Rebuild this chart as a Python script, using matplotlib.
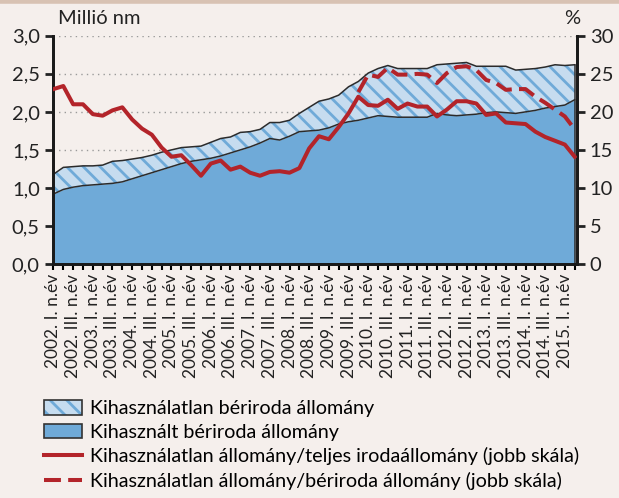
import matplotlib
matplotlib.use('Agg')
import matplotlib.pyplot as plt
from matplotlib.patches import Patch
from matplotlib.lines import Line2D
from matplotlib.legend_handler import HandlerTuple
import numpy as np

plt.rcParams['font.family'] = ['Lato', 'DejaVu Sans']
plt.rcParams['hatch.linewidth'] = 2.0

# quarterly data, 2002 Q1 - 2015 Q2
years = list(range(2002, 2016))
quarters = [f"{y}. {q}. n.év" for y in years for q in ['I', 'II', 'III', 'IV']][:54]

# used office stock (million m2)
used = [0.92, 0.98, 1.01, 1.03, 1.04, 1.05, 1.06, 1.08, 1.12, 1.16,
        1.20, 1.24, 1.28, 1.32, 1.35, 1.37, 1.39, 1.42, 1.46, 1.50,
        1.54, 1.59, 1.65, 1.63, 1.68, 1.74, 1.75, 1.76, 1.79, 1.84,
        1.87, 1.89, 1.92, 1.95, 1.94, 1.93, 1.93, 1.93, 1.93, 1.98,
        1.96, 1.95, 1.96, 1.97, 1.99, 2.00, 1.99, 1.98, 2.00, 2.02,
        2.05, 2.07, 2.09, 2.16]
# total rental office stock (million m2)
total = [1.18, 1.27, 1.28, 1.29, 1.29, 1.30, 1.35, 1.36, 1.38, 1.40,
         1.43, 1.47, 1.50, 1.53, 1.54, 1.55, 1.60, 1.65, 1.67, 1.73,
         1.74, 1.77, 1.86, 1.86, 1.89, 1.98, 2.06, 2.14, 2.17, 2.22,
         2.33, 2.40, 2.51, 2.57, 2.61, 2.57, 2.57, 2.57, 2.57, 2.62,
         2.63, 2.64, 2.65, 2.60, 2.60, 2.60, 2.60, 2.55, 2.56, 2.57,
         2.59, 2.62, 2.61, 2.62]
# vacancy / total office stock (%)
vac_total = [23.0, 23.4, 21.0, 21.0, 19.7, 19.5, 20.2, 20.6, 19.0, 17.8,
             17.0, 15.3, 14.1, 14.3, 13.0, 11.6, 13.2, 13.6, 12.4, 12.8,
             12.0, 11.6, 12.1, 12.2, 12.0, 12.6, 15.2, 16.8, 16.4, 18.0,
             19.8, 22.0, 20.9, 20.8, 21.6, 20.4, 21.1, 20.7, 20.7, 19.4,
             20.3, 21.4, 21.4, 21.1, 19.6, 19.8, 18.6, 18.5, 18.4, 17.4,
             16.7, 16.2, 15.7, 14.1]
# vacancy / rental office stock (%), from 2009 Q4
vac_rental = [None] * 31 + [22.6, 24.9, 24.6, 25.8, 24.9, 24.9, 25.0, 24.9, 23.8,
                            25.1, 25.9, 26.0, 25.5, 24.2, 23.8, 22.9, 23.0, 23.0, 22.0,
                            21.2, 20.3, 19.4, 17.7]

bg = '#F5EFEC'
red = '#B3242A'
dark_blue = '#6FAAD8'
light_blue = '#C6DCEF'
txt = '#222222'

x = np.arange(len(used))
vr = np.array([np.nan if v is None else v for v in vac_rental])

fig = plt.figure(figsize=(6.19, 4.98), dpi=100, facecolor=bg)
fig.add_artist(Line2D([0, 1], [0.997, 0.997], color='#D8C2B3', lw=4))
ax = fig.add_axes([0.0856, 0.470, 0.846, 0.458])
ax.set_facecolor(bg)

ax.fill_between(x, 0, used, color=dark_blue, lw=0, zorder=2)
ax.fill_between(x, used, total, facecolor=light_blue, edgecolor=dark_blue,
                hatch='\\\\', lw=0, zorder=2)
ax.plot(x, used, color='#2B2B2B', lw=1.1, zorder=3)
ax.plot(x, total, color='#2B2B2B', lw=1.1, zorder=3)
ax.plot([0, 0], [0, total[0]], color='#2B2B2B', lw=1.1, zorder=3)
ax.plot([x[-1], x[-1]], [0, total[-1]], color='#2B2B2B', lw=1.1, zorder=3)

ax.set_xlim(-0.05, 53.2)
ax.set_ylim(0, 3)
ax.set_yticks(np.arange(0, 3.01, 0.5))
ax.set_yticklabels([f"{v:.1f}".replace('.', ',') for v in np.arange(0, 3.01, 0.5)])
ax.yaxis.grid(True, color='#9A9A9A', ls=(0, (1, 3)), lw=1)
ax.set_axisbelow(True)

ax.set_xticks(x)
ax.set_xticklabels([q if i % 2 == 0 else '' for i, q in enumerate(quarters)],
                   rotation=90, fontsize=12.5, color=txt)
ax.tick_params(axis='x', length=4, width=1.5, direction='out', pad=3)
ax.tick_params(axis='y', length=6, width=2, labelsize=14.5, colors=txt)

ax2 = ax.twinx()
ax2.set_ylim(0, 30)
ax2.set_yticks(range(0, 31, 5))
ax2.tick_params(axis='y', length=6, width=2, labelsize=14.5, colors=txt)
ax2.plot(x, vac_total, color=red, lw=2.9, zorder=4)
ax2.plot(x, vr, color=red, lw=2.9, ls=(0, (4.2, 1.8)), zorder=4)

for a in (ax, ax2):
    a.spines['top'].set_visible(False)
    for s in ('left', 'right', 'bottom'):
        a.spines[s].set_linewidth(2)
        a.spines[s].set_color('#1A1A1A')

fig.text(0.093, 0.952, 'Millió nm', fontsize=14.5, color=txt)
fig.text(0.912, 0.952, '%', fontsize=14.5, color=txt)

hatch_patch = (Patch(facecolor=light_blue, edgecolor=dark_blue, hatch='\\\\', lw=0),
               Patch(fill=False, edgecolor='#333333', lw=1.2))
handles = [
    hatch_patch,
    Patch(facecolor=dark_blue, edgecolor='#333333', lw=1.2),
    Line2D([], [], color=red, lw=2.9),
    Line2D([], [], color=red, lw=2.9, ls=(0, (4.2, 1.8))),
]
labels = [
    'Kihasználatlan bériroda állomány',
    'Kihasznált bériroda állomány',
    'Kihasználatlan állomány/teljes irodaállomány (jobb skála)',
    'Kihasználatlan állomány/bériroda állomány (jobb skála)',
]
fig.legend(handles, labels, loc='upper left', bbox_to_anchor=(0.058, 0.212),
           frameon=False, fontsize=14.2, handlelength=1.95, handleheight=0.75,
           labelspacing=0.32, handletextpad=0.4, borderaxespad=0,
           handler_map={tuple: HandlerTuple(ndivide=1, pad=0)})

fig.savefig('out.png', dpi=100, facecolor=bg)
